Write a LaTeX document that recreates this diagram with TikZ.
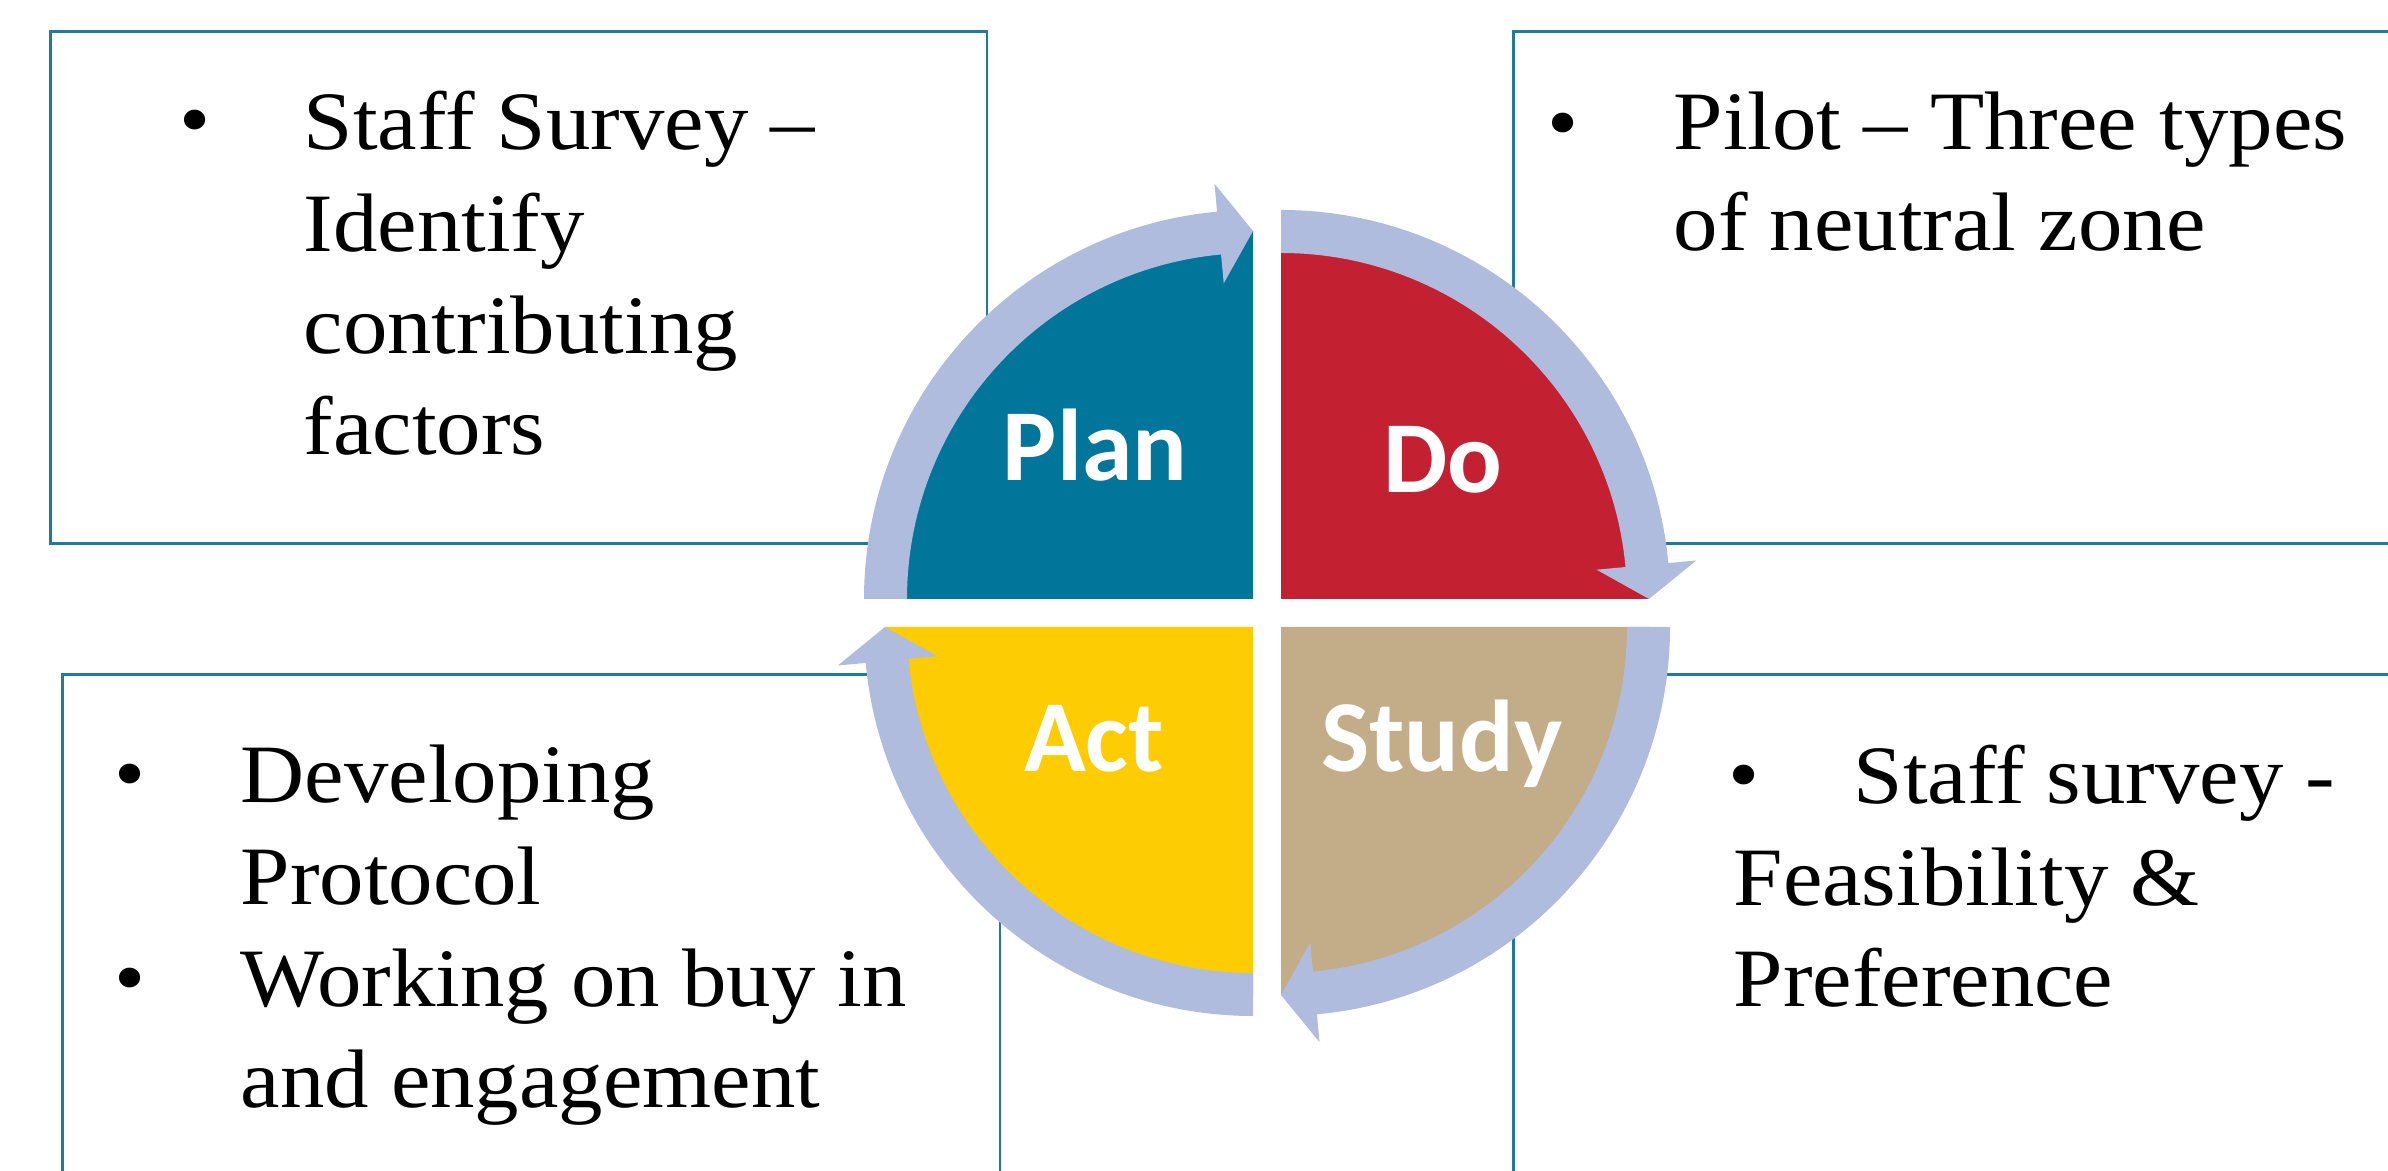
\documentclass[tikz,border=0pt]{standalone}
\usepackage{fontspec}
\setmainfont{Liberation Serif}[FakeStretch=1.07]
\newfontfamily\stagefont{Carlito}
\usetikzlibrary{calc}

\definecolor{plancol}{HTML}{02759A}
\definecolor{docol}{HTML}{C32032}
\definecolor{studycol}{HTML}{C3AC88}
\definecolor{actcol}{HTML}{FECC02}
\definecolor{ringcol}{HTML}{AFBCDD}
\definecolor{boxcol}{HTML}{1E7B9B}

\tikzstyle{panel} = [rectangle, draw=boxcol, line width=0.8pt, anchor=north west, inner sep=0pt]
\tikzstyle{note} = [anchor=base west, align=left, inner sep=0pt,
    font=\fontsize{23.6pt}{29pt}\selectfont]
\tikzstyle{bul} = [anchor=base, inner sep=0pt, font=\fontsize{23.6pt}{29pt}\selectfont]
\tikzstyle{stage} = [anchor=base, inner sep=0pt, text=white,
    font=\stagefont\bfseries\fontsize{29pt}{34pt}\selectfont]

% one quarter of the cycle: corner, start angle, colour
\newcommand{\cyclepart}[3]{
  \begin{scope}[shift={#1}]
    \fill[#3] (0,0) -- (#2:368) arc[start angle=#2, end angle=#2-90, radius=368] -- cycle;
    \fill[ringcol] (#2:389) arc[start angle=#2, end angle=#2-84.7, radius=389]
      -- (#2-84.7:417) -- (#2-90:368) -- (#2-84.7:317) -- (#2-84.7:346)
      arc[start angle=#2-84.7, end angle=#2, radius=346] -- cycle;
  \end{scope}}

\begin{document}
\begin{tikzpicture}[x=0.01cm, y=0.01cm]
  \useasboundingbox (0,0) rectangle (2388,-1171);
  \clip (0,0) rectangle (2388,-1171);

  % Place boxes
  \node [panel, minimum width=9.36cm, minimum height=5.12cm] (planbox) at (49,-30) {};
  \node [panel, minimum width=9.2cm, minimum height=5.12cm] (dobox) at (1512,-30) {};
  \node [panel, minimum width=9.37cm, minimum height=5.3cm] (actbox) at (61,-673) {};
  \node [panel, minimum width=9.2cm, minimum height=5.3cm] (studybox) at (1512,-673) {};

  % the cycle
  \cyclepart{(1253,-599)}{180}{plancol}
  \cyclepart{(1281,-599)}{90}{docol}
  \cyclepart{(1281,-627)}{0}{studycol}
  \cyclepart{(1253,-627)}{270}{actcol}

  \node [stage] (plan) at (1095,-481) {Plan};
  \node [stage] (do) at (1443,-493) {Do};
  \node [stage] (act) at (1094,-772) {Act};
  \node [stage] (study) at (1442,-772) {Study};

  % Texts (base = last line)
  \node [bul] (planbul) at (195,-148) {\textbullet};
  \node [note] (plantext) at (303,-455) {Staff Survey --\\Identify\\contributing\\factors};

  \node [bul] (dobul) at (1563,-151) {\textbullet};
  \node [note] (dotext) at (1673,-251) {Pilot -- Three types\\of neutral zone};

  \node [bul] (actbul1) at (130,-802) {\textbullet};
  \node [bul] (actbul2) at (130,-1006) {\textbullet};
  \node [note] (acttext) at (240,-1108) {Developing\\Protocol\\Working on buy in\\and engagement};

  \node [bul] (studybul) at (1744,-803) {\textbullet};
  \node [note] (studytext) at (1733,-1007) {\hspace*{1.2cm}Staff survey -\\Feasibility \&\\Preference};
\end{tikzpicture}
\end{document}
